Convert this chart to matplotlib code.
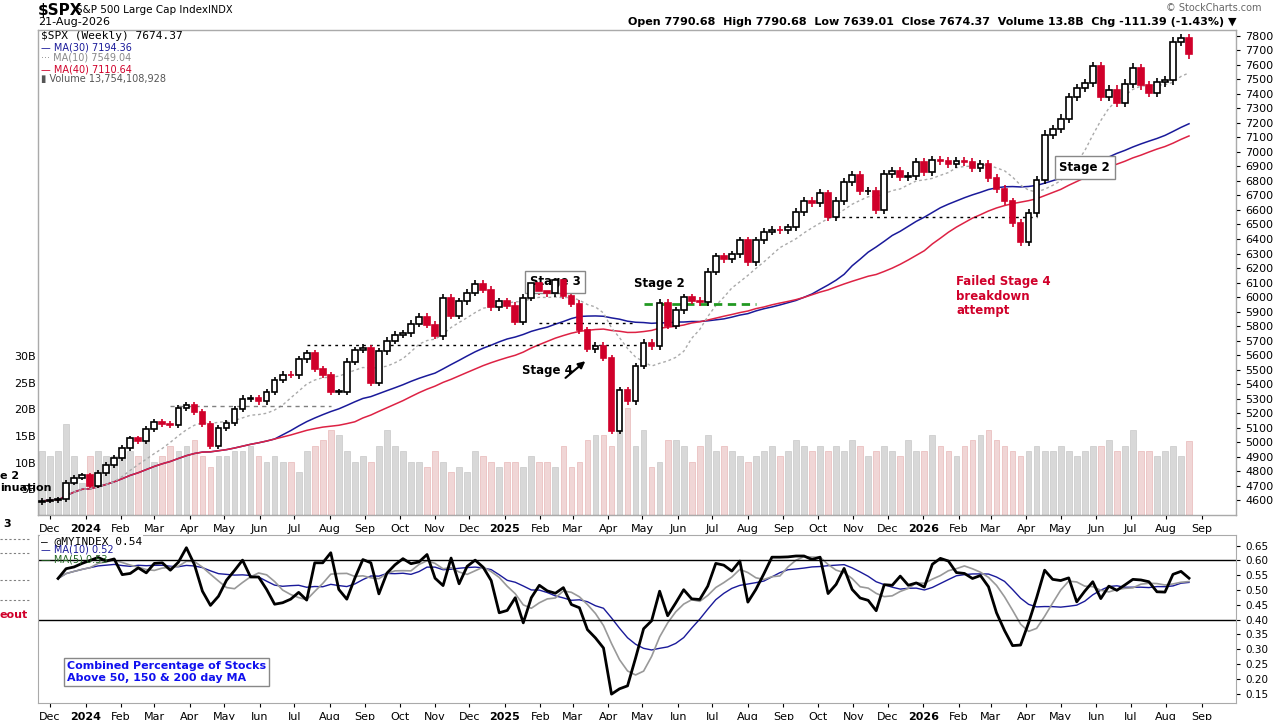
import numpy as np
import pandas as pd
import matplotlib
matplotlib.use("Agg")
import matplotlib.pyplot as plt

# weekly closes, Nov 2023 .. 21-Aug-2026
closes = [
    4595, 4600, 4605, 4720, 4755, 4770,
    4700, 4785, 4840, 4890,
    4960, 5025, 5005, 5090,
    5140, 5125, 5120, 5235, 5255,
    5205, 5125, 4970, 5100,
    5130, 5225, 5300, 5305, 5280,
    5345, 5430, 5465, 5460,
    5570, 5615, 5505, 5460,
    5345, 5345, 5555, 5635, 5650,
    5410, 5625, 5700, 5740,
    5750, 5815, 5865, 5810,
    5730, 5995, 5870, 5970, 6030,
    6090, 6050, 5930, 5970,
    5940, 5830, 5995, 6100, 6040,
    6025, 6115, 6010, 5955,
    5770, 5640, 5665, 5580,
    5075, 5360, 5280, 5525,
    5685, 5660, 5960, 5800, 5910,
    6000, 5975, 5965, 6175,
    6280, 6260, 6295, 6390,
    6240, 6390, 6450, 6465, 6460,
    6480, 6585, 6665, 6645,
    6715, 6550, 6665, 6790, 6840,
    6730, 6730, 6600, 6850,
    6870, 6830, 6835, 6930,
    6860, 6945, 6940, 6920, 6940,
    6930, 6890, 6915, 6820,
    6745, 6660, 6510, 6380,
    6580, 6810, 7120, 7160,
    7230, 7380, 7440, 7475, 7590,
    7380, 7430, 7340, 7470,
    7580, 7460, 7410, 7480,
    7495, 7760, 7785, 7674.37,
]

# weekly volume, billions
volumes = [
    12, 11, 12, 17, 11, 6, 11, 12, 11, 11,
    12, 12, 11, 15, 10, 11, 13, 12, 13, 14,
    11, 9, 11, 11, 12, 12, 13, 11, 10, 11,
    10, 10, 8, 12, 13, 14, 16, 15, 12, 10,
    11, 10, 13, 16, 13, 12, 10, 10, 9, 12,
    10, 8, 9, 8, 12, 11, 10, 9, 10, 10,
    9, 11, 10, 10, 9, 13, 9, 10, 14, 15,
    15, 13, 16, 20, 13, 16, 9, 10, 14, 14,
    13, 10, 13, 15, 12, 13, 12, 11, 10, 11,
    12, 13, 11, 12, 14, 13, 12, 13, 12, 13,
    12, 14, 13, 11, 12, 13, 12, 11, 14, 12,
    12, 15, 13, 12, 11, 13, 14, 15, 16, 14,
    13, 12, 11, 12, 13, 12, 12, 13, 12, 11,
    12, 13, 13, 14, 12, 13, 16, 12, 12, 11,
    12, 13, 11, 13.8,
]

# @MYINDEX weekly values
myindex = [
    0.539, 0.572, 0.578, 0.590, 0.600, 0.610, 0.598, 0.605, 0.552, 0.556,
    0.575, 0.558, 0.590, 0.592, 0.567, 0.594, 0.643, 0.586, 0.496, 0.448,
    0.479, 0.533, 0.566, 0.601, 0.544, 0.544, 0.502, 0.452,
    0.457, 0.469, 0.492, 0.466, 0.592, 0.592, 0.626, 0.502, 0.469, 0.540,
    0.603, 0.592, 0.487, 0.557, 0.585, 0.606, 0.589, 0.595, 0.620, 0.540,
    0.515, 0.608, 0.521, 0.580, 0.601, 0.577, 0.532, 0.423, 0.431, 0.474,
    0.389, 0.474, 0.516, 0.497, 0.489, 0.508, 0.451, 0.440, 0.366, 0.338,
    0.304, 0.148, 0.166, 0.176, 0.270, 0.369, 0.396, 0.496, 0.413, 0.456,
    0.501, 0.470, 0.468, 0.513, 0.590, 0.584, 0.564, 0.598, 0.459, 0.502,
    0.555, 0.611, 0.611, 0.612, 0.615, 0.615, 0.603, 0.611, 0.488, 0.519,
    0.573, 0.502, 0.473, 0.465, 0.430, 0.518, 0.516, 0.547, 0.516,
    0.524, 0.510, 0.587, 0.607, 0.598, 0.559, 0.556, 0.539, 0.549, 0.511,
    0.423, 0.363, 0.312, 0.314, 0.389, 0.474, 0.567, 0.536, 0.532, 0.541,
    0.460, 0.496, 0.528, 0.471, 0.513, 0.499, 0.517, 0.536, 0.534, 0.528,
    0.494, 0.493, 0.553, 0.563, 0.540,
]

end = pd.Timestamp("2026-08-21")
dates = pd.date_range(end=end, periods=len(closes), freq="W-FRI")
vdates = pd.date_range(end=end, periods=len(volumes), freq="W-FRI")
idates = pd.date_range(end=end, periods=len(myindex), freq="W-FRI")

c = np.array(closes, float)
o = np.r_[c[0] - 10, c[:-1]]
wick = c * 0.004
hi = np.maximum(o, c) + wick
lo = np.minimum(o, c) - wick
s = pd.Series(c)
ma10 = s.rolling(10, min_periods=1).mean()
ma30 = s.rolling(30, min_periods=1).mean()
ma40 = s.rolling(40, min_periods=1).mean()

RED = "#d0002a"
fig = plt.figure(figsize=(12.8, 7.2), dpi=100)
ax = fig.add_axes([38/1280, 1-515/720, 1198/1280, 485/720])
axv = ax.twinx()
axi = fig.add_axes([38/1280, 1-703/720, 1198/1280, 168/720])

x0 = dates[0] - pd.Timedelta(days=3.5)
x1 = dates[-1] + pd.Timedelta(days=41)

# volume
vcol, vedge = [], []
for i in range(len(volumes)):
    j = i - (len(volumes) - len(closes))
    up = j <= 0 or closes[j] >= closes[j-1]
    vcol.append("#d8d8d8" if up else "#f0d6d6")
    vedge.append("#c8c8c8" if up else "#e8b8b8")
axv.bar(vdates, volumes, width=5, color=vcol, edgecolor=vedge, linewidth=0.5)
axv.set_ylim(0, 91)
axv.set_zorder(0)
ax.set_zorder(1)
ax.patch.set_visible(False)
axv.yaxis.set_visible(False)
for v in [5, 10, 15, 20, 25, 30]:
    fig.text(36/1280, 1-(517-5.33*v)/720, f"{v}B", ha="right", va="center", fontsize=8)

# candles
for d, oo, cc, h, l in zip(dates, o, c, hi, lo):
    col = "black" if cc >= oo else RED
    ax.vlines(d, l, h, color=col, lw=1.2, zorder=3)
    ax.bar(d, max(abs(cc - oo), 4), bottom=min(oo, cc), width=5,
           color="white" if cc >= oo else RED, edgecolor=col, lw=1.2, zorder=4)

ax.plot(dates, ma30, color="#1a1a9a", lw=1.1, zorder=2)
ax.plot(dates, ma40, color="#dd2244", lw=1.1, zorder=2)
ax.plot(dates, ma10, color="#aaaaaa", lw=1.0, ls=(0, (2, 2)), zorder=2)

T = pd.Timestamp
ax.hlines(5670, T("2024-07-12"), T("2025-05-02"), color="black", lw=1, ls=(0, (2, 3)))
ax.hlines(5820, T("2025-01-31"), T("2025-04-25"), color="black", lw=1, ls=(0, (2, 3)))
ax.hlines(5250, T("2024-03-15"), T("2024-08-02"), color="gray", lw=1, ls=(0, (3, 3)))
ax.hlines(6550, T("2025-10-10"), T("2026-04-10"), color="black", lw=1, ls=(0, (2, 3)))
ax.hlines(5950, T("2025-05-02"), T("2025-08-08"), color="#229922", lw=2, ls=(0, (3, 2)))

ax.set_xlim(x0, x1)
ax.set_ylim(4497, 7841)
ax.yaxis.tick_right()
ax.set_yticks(range(4600, 7801, 100))
ax.tick_params(axis="y", labelsize=8, length=3)

months = pd.date_range("2023-12-01", "2026-09-01", freq="MS")
labels = [str(m.year) if m.month == 1 else m.strftime("%b") for m in months]
for a in (ax, axi):
    a.set_xticks(months)
    a.set_xticklabels(labels, fontsize=8)
    a.tick_params(axis="x", length=3)
    for t, m in zip(a.get_xticklabels(), months):
        if m.month == 1:
            t.set_fontweight("bold")
    for sp in a.spines.values():
        sp.set_color("#aaaaaa")
    a.set_xlim(x0, x1)

box = dict(boxstyle="square,pad=0.4", fc="white", ec="#888888")
ax.text(T("2025-02-14"), 6080, "Stage 3", fontsize=8.5, fontweight="bold", ha="center", bbox=box)
ax.text(T("2026-05-22"), 6870, "Stage 2", fontsize=8.5, fontweight="bold", ha="center", bbox=box)
ax.text(T("2025-05-16"), 6070, "Stage 2", fontsize=8.5, fontweight="bold", ha="center")
ax.text(T("2025-02-07"), 5470, "Stage 4", fontsize=8.5, fontweight="bold", ha="center")
ax.annotate("", xy=(T("2025-03-14"), 5570), xytext=(T("2025-02-21"), 5430),
            arrowprops=dict(arrowstyle="-|>", color="black", lw=1.5))
ax.text(T("2026-01-30"), 6150, "Failed Stage 4\nbreakdown\nattempt", color=RED, fontsize=8.5,
        fontweight="bold", va="top", linespacing=1.15)

# legend text in price panel
fig.text(41/1280, 1-36/720, "$SPX (Weekly) 7674.37", fontsize=8, va="center", family="DejaVu Sans Mono")
fig.text(41/1280, 1-47/720, "— MA(30) 7194.36", fontsize=7, va="center", color="#1a1a9a")
fig.text(41/1280, 1-58/720, "··· MA(10) 7549.04", fontsize=7, va="center", color="#888888")
fig.text(41/1280, 1-69/720, "— MA(40) 7110.64", fontsize=7, va="center", color=RED)
fig.text(41/1280, 1-79/720, "▮ Volume 13,754,108,928", fontsize=7, va="center", color="#555555")

# header
fig.text(38/1280, 1-10/720, "$SPX", fontsize=11, fontweight="bold", va="center")
fig.text(76/1280, 1-10/720, "S&P 500 Large Cap Index", fontsize=7.5, va="center")
fig.text(208/1280, 1-10/720, "INDX", fontsize=7, va="center")
fig.text(38/1280, 1-22/720, "21-Aug-2026", fontsize=8, va="center")
fig.text(1236/1280, 1-22/720,
         "Open 7790.68  High 7790.68  Low 7639.01  Close 7674.37  Volume 13.8B  Chg -111.39 (-1.43%) ▼",
         fontsize=8, ha="right", va="center", fontweight="bold")
fig.text(1262/1280, 1-8/720, "© StockCharts.com", fontsize=7, ha="right", va="center", color="#666666")

# clipped annotations at left edge
fig.text(0, 1-482/720, "e 2\ninuation", fontsize=8, fontweight="bold", va="center")
fig.text(3/1280, 1-524/720, "3", fontsize=8, fontweight="bold", va="center")
fig.text(0, 1-615/720, "eout", fontsize=8, fontweight="bold", va="center", color=RED)
for yy in [539, 553, 580, 600]:
    fig.add_artist(plt.Line2D([0, 30/1280], [1-yy/720]*2, color="gray", lw=0.8, ls=(0, (2, 2))))

# indicator panel
mi = pd.Series(myindex)
axi.plot(idates, mi.rolling(10, min_periods=1).mean(), color="#1a1a9a", lw=1)
axi.plot(idates, mi.rolling(5, min_periods=1).mean(), color="#999999", lw=1.2)
axi.plot(idates, mi, color="black", lw=2)
axi.axhline(0.6, color="black", lw=1)
axi.axhline(0.4, color="black", lw=1)
axi.set_ylim(0.118, 0.686)
axi.yaxis.tick_right()
axi.set_yticks(np.arange(0.15, 0.66, 0.05))
axi.set_yticklabels([f"{v:.2f}" for v in np.arange(0.15, 0.66, 0.05)])
axi.tick_params(axis="y", labelsize=7.5, length=3)
fig.text(41/1280, 1-541/720, "— @MYINDEX 0.54", fontsize=8, va="center", family="DejaVu Sans Mono",
         bbox=dict(fc="white", ec="none", pad=0.5))
fig.text(41/1280, 1-550/720, "— MA(10) 0.52", fontsize=7, va="center", color="#1a1a9a")
fig.text(41/1280, 1-560/720, "— MA(5) 0.53", fontsize=7, va="center", color="#226622")
fig.text(67/1280, 1-672/720, "Combined Percentage of Stocks\nAbove 50, 150 & 200 day MA",
         fontsize=8, fontweight="bold", color="#1010ee", va="center",
         bbox=dict(boxstyle="square,pad=0.3", fc="white", ec="#888888"))

fig.savefig("out.png", dpi=100)
